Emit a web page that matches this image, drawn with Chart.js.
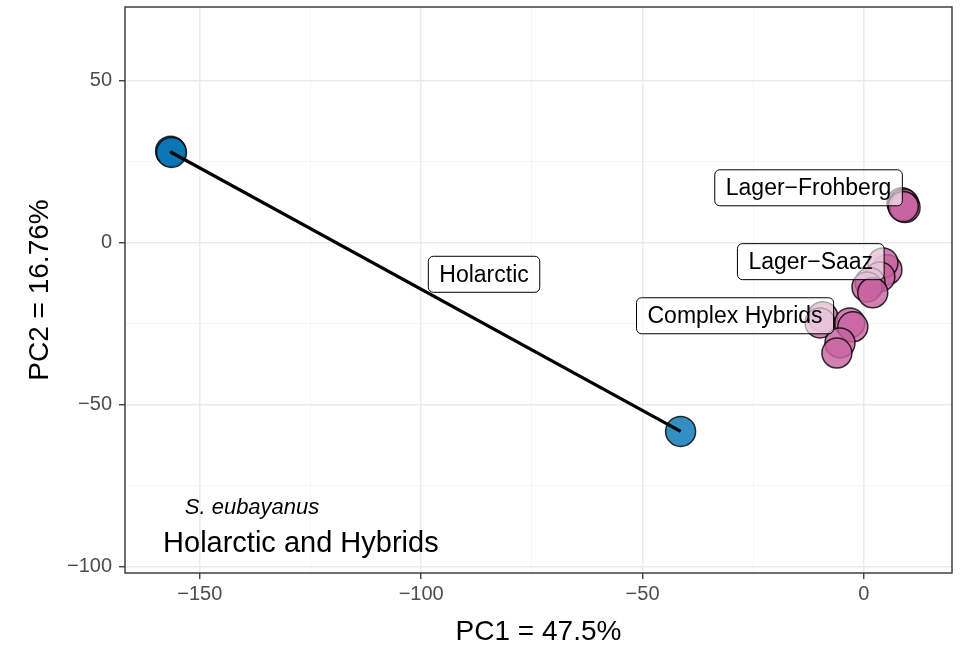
<!DOCTYPE html>
<html>
<head>
<meta charset="utf-8">
<title>PCA S. eubayanus</title>
<script src="https://cdn.jsdelivr.net/npm/chart.js@4/dist/chart.umd.min.js"></script>
<style>
  html, body { margin: 0; padding: 0; background: #ffffff; }
  #wrap { width: 967px; height: 649px; }
</style>
</head>
<body>
<div id="wrap"><canvas id="pcaChart" width="967" height="649"></canvas></div>
<script>
// PC scores per group
const holarcticX = [-156.6, -156.4, -41.4];
const holarcticY = [28.3, 27.9, -58.2];

const frohbergX = [8.6, 8.8, 9.0, 9.3, 8.9];
const frohbergY = [12.4, 11.6, 12.0, 10.9, 11.2];

const saazX = [5.2, 4.3, 3.6, 1.4, 0.7, 2.0];
const saazY = [-8.3, -6.2, -10.5, -12.3, -13.6, -15.4];

const hybridX = [-9.3, -9.9, -3.2, -2.5, -5.4, -6.1];
const hybridY = [-22.8, -24.7, -24.7, -25.9, -30.9, -34.0];

// group labels (data coords of label centre)
const labelText = ['Holarctic', 'Lager\u2212Frohberg', 'Lager\u2212Saaz', 'Complex Hybrids'];
const labelX = [-85.8, -12.5, -12.0, -29.1];
const labelY = [-9.7, 17.0, -5.8, -22.5];

const xMajor = [-150, -100, -50, 0];
const xMinor = [-125, -75, -25];
const yMajor = [-100, -50, 0, 50];
const yMinor = [-75, -25, 25];

const xLimits = [-166.9, 19.9];
const yLimits = [-101.9, 72.8];

const FONT = '"Liberation Sans", Arial, Helvetica, sans-serif';
const BLUE = 'rgba(0, 114, 178, 0.8)';
const PINK = 'rgba(200, 100, 160, 0.82)';
const EDGE = 'rgba(0, 0, 0, 0.8)';

const toPoints = (xs, ys) => xs.map((x, i) => ({ x: x, y: ys[i] }));
const fmt = v => (v < 0 ? '\u2212' + Math.abs(v) : String(v));

function pointSet(label, xs, ys, fill) {
  return {
    type: 'scatter',
    label: label,
    data: toPoints(xs, ys),
    backgroundColor: fill,
    borderColor: EDGE,
    borderWidth: 1.5,
    pointRadius: 15,
    pointHoverRadius: 15,
  };
}

function axisTicks(major, minor) {
  return function (scale) {
    scale.ticks = major.concat(minor).sort((a, b) => a - b).map(v => ({ value: v }));
  };
}

const isMajor = (major) => (ctx) => ctx.tick && major.includes(ctx.tick.value);

const groupLabels = {
  id: 'groupLabels',
  afterDatasetsDraw(chart) {
    const { ctx, scales } = chart;
    ctx.save();
    ctx.font = '23px ' + FONT;
    ctx.textAlign = 'center';
    ctx.textBaseline = 'middle';
    labelText.forEach((t, i) => {
      const cx = scales.x.getPixelForValue(labelX[i]);
      const cy = scales.y.getPixelForValue(labelY[i]);
      const w = ctx.measureText(t).width + 22;
      const h = 36;
      ctx.beginPath();
      ctx.roundRect(cx - w / 2, cy - h / 2, w, h, 5);
      ctx.fillStyle = 'rgba(255, 255, 255, 0.6)';
      ctx.fill();
      ctx.lineWidth = 1;
      ctx.strokeStyle = '#000000';
      ctx.stroke();
      ctx.fillStyle = '#000000';
      ctx.fillText(t, cx, cy + 1);
    });

    // species note in the lower left corner
    ctx.textAlign = 'left';
    ctx.font = 'italic 22px ' + FONT;
    ctx.fillText('S. eubayanus', scales.x.getPixelForValue(-153.4), scales.y.getPixelForValue(-81.8));
    ctx.font = '29px ' + FONT;
    ctx.fillText('Holarctic and Hybrids', scales.x.getPixelForValue(-158.3), scales.y.getPixelForValue(-92.9));
    ctx.restore();
  },
  afterDraw(chart) {
    const a = chart.chartArea;
    const ctx = chart.ctx;
    ctx.save();
    ctx.strokeStyle = '#333333';
    ctx.lineWidth = 1.4;
    ctx.strokeRect(a.left, a.top, a.right - a.left, a.bottom - a.top);
    ctx.restore();
  },
};

const pcaChart = new Chart(document.getElementById('pcaChart'), {
  data: {
    datasets: [
      {
        type: 'line',
        label: 'Holarctic link',
        data: toPoints(holarcticX, holarcticY),
        borderColor: '#000000',
        borderWidth: 3.2,
        pointRadius: 0,
        fill: false,
        tension: 0,
      },
      pointSet('Holarctic', holarcticX, holarcticY, BLUE),
      pointSet('Lager-Frohberg', frohbergX, frohbergY, PINK),
      pointSet('Lager-Saaz', saazX, saazY, PINK),
      pointSet('Complex Hybrids', hybridX, hybridY, PINK),
    ],
  },
  plugins: [groupLabels],
  options: {
    responsive: false,
    animation: false,
    events: [],
    layout: { autoPadding: false, padding: { left: 0, top: 7, right: 15, bottom: 0 } },
    plugins: {
      legend: { display: false },
      tooltip: { enabled: false },
    },
    scales: {
      x: {
        type: 'linear',
        position: 'bottom',
        min: xLimits[0],
        max: xLimits[1],
        afterBuildTicks: axisTicks(xMajor, xMinor),
        afterFit: s => { s.height = 76; s.paddingLeft = 0; s.paddingRight = 0; },
        border: { display: false },
        grid: {
          color: ctx => (isMajor(xMajor)(ctx) ? '#ebebeb' : '#f3f3f3'),
          lineWidth: ctx => (isMajor(xMajor)(ctx) ? 1.5 : 0.8),
          tickColor: ctx => (isMajor(xMajor)(ctx) ? '#333333' : 'rgba(0,0,0,0)'),
          tickWidth: 1.3,
          tickLength: 6,
        },
        ticks: {
          autoSkip: false,
          maxRotation: 0,
          padding: 3,
          color: '#4d4d4d',
          font: { family: FONT, size: 20 },
          callback: v => (xMajor.includes(v) ? fmt(v) : ''),
        },
        title: {
          display: true,
          text: 'PC1 = 47.5%',
          color: '#000000',
          font: { family: FONT, size: 28 },
          padding: { top: 0, bottom: 0 },
        },
      },
      y: {
        type: 'linear',
        position: 'left',
        min: yLimits[0],
        max: yLimits[1],
        afterBuildTicks: axisTicks(yMajor, yMinor),
        afterFit: s => { s.width = 125; s.paddingTop = 0; s.paddingBottom = 0; },
        border: { display: false },
        grid: {
          color: ctx => (isMajor(yMajor)(ctx) ? '#ebebeb' : '#f3f3f3'),
          lineWidth: ctx => (isMajor(yMajor)(ctx) ? 1.5 : 0.8),
          tickColor: ctx => (isMajor(yMajor)(ctx) ? '#333333' : 'rgba(0,0,0,0)'),
          tickWidth: 1.3,
          tickLength: 6,
        },
        ticks: {
          autoSkip: false,
          padding: 7,
          color: '#4d4d4d',
          font: { family: FONT, size: 20 },
          callback: v => (yMajor.includes(v) ? fmt(v) : ''),
        },
        title: {
          display: true,
          text: 'PC2 = 16.76%',
          color: '#000000',
          font: { family: FONT, size: 28 },
          padding: { top: 23, bottom: 0 },
        },
      },
    },
  },
});
</script>
</body>
</html>
